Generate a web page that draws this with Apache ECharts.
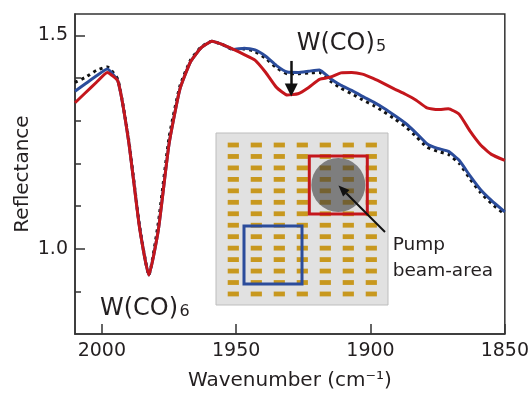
<!DOCTYPE html>
<html>
<head>
<meta charset="utf-8">
<script src="https://cdn.jsdelivr.net/npm/echarts@6/dist/echarts.min.js"></script>
<style>
html, body { margin: 0; padding: 0; background: #fff; }
#chart { width: 532px; height: 396px; }
</style>
</head>
<body>
<div id="chart"></div>
<script>
// wavenumber (cm-1) samples shared by the three spectra
var wavenumbers = [2010, 2006, 2002, 1998, 1994, 1990, 1986, 1982.5, 1979, 1975,
	1971, 1967, 1963, 1959, 1955, 1951, 1947, 1943, 1939, 1935,
	1931, 1927, 1923, 1919, 1915, 1911, 1907, 1903, 1899, 1895,
	1891, 1887, 1883, 1879, 1875, 1871, 1867, 1863, 1859, 1855, 1850];

// blue: reference area, red: pump beam-area, black dotted: before pump
var reflBlue = [1.369, 1.387, 1.405, 1.421, 1.392, 1.25, 1.052, 0.938, 1.043, 1.245,
	1.373, 1.438, 1.471, 1.486, 1.478, 1.467, 1.47, 1.466, 1.451, 1.429,
	1.414, 1.413, 1.416, 1.419, 1.399, 1.383, 1.371, 1.357, 1.344, 1.329,
	1.312, 1.294, 1.271, 1.246, 1.235, 1.228, 1.207, 1.171, 1.138, 1.113, 1.086];
var reflRed = [1.342, 1.366, 1.39, 1.413, 1.392, 1.25, 1.05, 0.938, 1.043, 1.245,
	1.373, 1.438, 1.471, 1.486, 1.478, 1.467, 1.455, 1.442, 1.413, 1.378,
	1.36, 1.363, 1.378, 1.397, 1.402, 1.412, 1.413, 1.409, 1.399, 1.387,
	1.374, 1.362, 1.348, 1.33, 1.326, 1.328, 1.315, 1.276, 1.243, 1.221, 1.207];
var reflDotted = [1.39, 1.402, 1.418, 1.426, 1.396, 1.255, 1.055, 0.938, 1.06, 1.26,
	1.38, 1.442, 1.473, 1.486, 1.478, 1.466, 1.468, 1.462, 1.446, 1.424,
	1.41, 1.41, 1.412, 1.413, 1.393, 1.376, 1.363, 1.349, 1.336, 1.321,
	1.304, 1.286, 1.263, 1.238, 1.228, 1.221, 1.2, 1.164, 1.131, 1.106, 1.08];

var xTickValues = [2000, 1950, 1900, 1850];
var yLabelValues = [1.0, 1.5];
var yMinorValues = [0.9, 1.1, 1.2, 1.3, 1.4];

// W(CO)5 arrow: wavenumber, start and end reflectance
var w5Arrow = [1929.5, 1.44, 1.372];

var FONT = 'DejaVu Sans';
var INK = '#231F20';

function pairs(ys) {
	return wavenumbers.map(function(w, i) { return [w, ys[i]]; });
}

// inset sketch of the antenna array
function buildInset() {
	var els = [];
	var x0 = 216, y0 = 133, size = 172;
	els.push({ type: 'rect', shape: { x: x0, y: y0, width: size, height: size },
		style: { fill: '#E1E1E1', stroke: '#BDBDBD', lineWidth: 1 } });
	for (var c = 0; c < 7; c++) {
		for (var r = 0; r < 14; r++) {
			els.push({ type: 'rect',
				shape: { x: 233.3 + c * 23 - 5.6, y: 145 + r * 11.46 - 2.4, width: 11.2, height: 4.8 },
				style: { fill: '#C8981E' } });
		}
	}
	els.push({ type: 'circle', shape: { cx: 338.3, cy: 185, r: 27 },
		style: { fill: 'rgba(60,60,60,0.6)' } });
	els.push({ type: 'rect', shape: { x: 309.3, y: 156, width: 58, height: 58 },
		style: { fill: 'none', stroke: '#C4161C', lineWidth: 3 } });
	els.push({ type: 'rect', shape: { x: 244, y: 226, width: 58, height: 58 },
		style: { fill: 'none', stroke: '#2B4C9B', lineWidth: 3 } });

	// pointer from label to beam spot
	var sx = 385, sy = 232, tx = 338.5, ty = 185.5;
	var len = Math.sqrt((sx - tx) * (sx - tx) + (sy - ty) * (sy - ty));
	var dx = (sx - tx) / len, dy = (sy - ty) / len;
	var bx = tx + dx * 11, by = ty + dy * 11;
	els.push({ type: 'line', shape: { x1: sx, y1: sy, x2: bx, y2: by },
		style: { stroke: '#111', lineWidth: 2 } });
	els.push({ type: 'polygon', shape: { points: [[tx, ty],
		[bx - dy * 4.5, by + dx * 4.5], [bx + dy * 4.5, by - dx * 4.5]] },
		style: { fill: '#111' } });
	return els;
}

// label with a subscript; base is the bottom of the main text box
function subLabel(x, base, main, subX, sub) {
	return [{
		type: 'text', x: x, y: base, z: 10,
		style: { text: main, fontFamily: FONT, fontSize: 24, fill: INK,
			verticalAlign: 'bottom', textVerticalAlign: 'bottom' }
	}, {
		type: 'text', x: subX, y: base - 1.3, z: 10,
		style: { text: sub, fontFamily: FONT, fontSize: 16, fill: INK,
			verticalAlign: 'bottom', textVerticalAlign: 'bottom' }
	}];
}

var chart = echarts.init(document.getElementById('chart'));

var option = {
	animation: false,
	backgroundColor: '#fff',
	grid: { left: 75, right: 27, top: 14, bottom: 60, show: true,
		borderColor: '#333', borderWidth: 1.5, backgroundColor: 'transparent' },
	xAxis: {
		type: 'value', inverse: true, min: 1850, max: 2010,
		name: 'Wavenumber (cm\u207B\u00B9)', nameLocation: 'middle', nameGap: 37,
		nameMoveOverlap: false,
		nameTextStyle: { fontFamily: FONT, fontSize: 20, color: INK },
		axisLine: { lineStyle: { color: '#333', width: 1.5 } },
		axisTick: { inside: true, length: 10, customValues: xTickValues,
			lineStyle: { color: '#333', width: 1.5 } },
		axisLabel: { customValues: xTickValues, margin: 8,
			fontFamily: FONT, fontSize: 19, color: INK,
			formatter: function(v) { return String(v); } },
		splitLine: { show: false }
	},
	yAxis: [{
		type: 'value', min: 0.8, max: 1.55,
		name: 'Reflectance', nameLocation: 'middle', nameGap: 42,
		nameMoveOverlap: false,
		nameTextStyle: { fontFamily: FONT, fontSize: 20, color: INK },
		axisLine: { show: true, lineStyle: { color: '#333', width: 1.5 } },
		axisTick: { inside: true, length: 10, customValues: yLabelValues,
			lineStyle: { color: '#333', width: 1.5 } },
		axisLabel: { customValues: yLabelValues, margin: 7,
			fontFamily: FONT, fontSize: 19, color: INK,
			formatter: function(v) { return v.toFixed(1); } },
		splitLine: { show: false }
	}, {
		type: 'value', min: 0.8, max: 1.55, position: 'left',
		axisLine: { show: false },
		axisTick: { show: true, inside: true, length: 6, customValues: yMinorValues,
			lineStyle: { color: '#333', width: 1.5 } },
		axisLabel: { show: false },
		splitLine: { show: false }
	}],
	series: [{
		name: 'before', type: 'line', data: pairs(reflDotted),
		showSymbol: false, smooth: 0.15, z: 2,
		lineStyle: { color: '#111', width: 3, type: [3, 4] }
	}, {
		name: 'reference', type: 'line', data: pairs(reflBlue),
		showSymbol: false, smooth: 0.15, z: 3,
		lineStyle: { color: '#2B4C9B', width: 3 }
	}, {
		name: 'pumped', type: 'line', data: pairs(reflRed),
		showSymbol: false, smooth: 0.15, z: 4,
		lineStyle: { color: '#C4161C', width: 3 },
		markLine: {
			silent: true, animation: false,
			symbol: ['none', 'triangle'], symbolSize: [13, 13],
			lineStyle: { color: '#111', width: 2.5, type: 'solid' },
			label: { show: false },
			data: [[{ coord: [w5Arrow[0], w5Arrow[1]] }, { coord: [w5Arrow[0], w5Arrow[2]] }]]
		}
	}],
	graphic: buildInset()
		.concat(subLabel(100, 321, 'W(CO)', 179.5, '6'))
		.concat(subLabel(296.7, 56, 'W(CO)', 376, '5'))
		.concat([{
			type: 'text', x: 392.7, y: 232.5, z: 10,
			style: { text: 'Pump\nbeam-area', fontFamily: FONT, fontSize: 18.5,
				lineHeight: 25.6, fill: INK, verticalAlign: 'top', textVerticalAlign: 'top' }
		}])
};

chart.setOption(option);
</script>
</body>
</html>
